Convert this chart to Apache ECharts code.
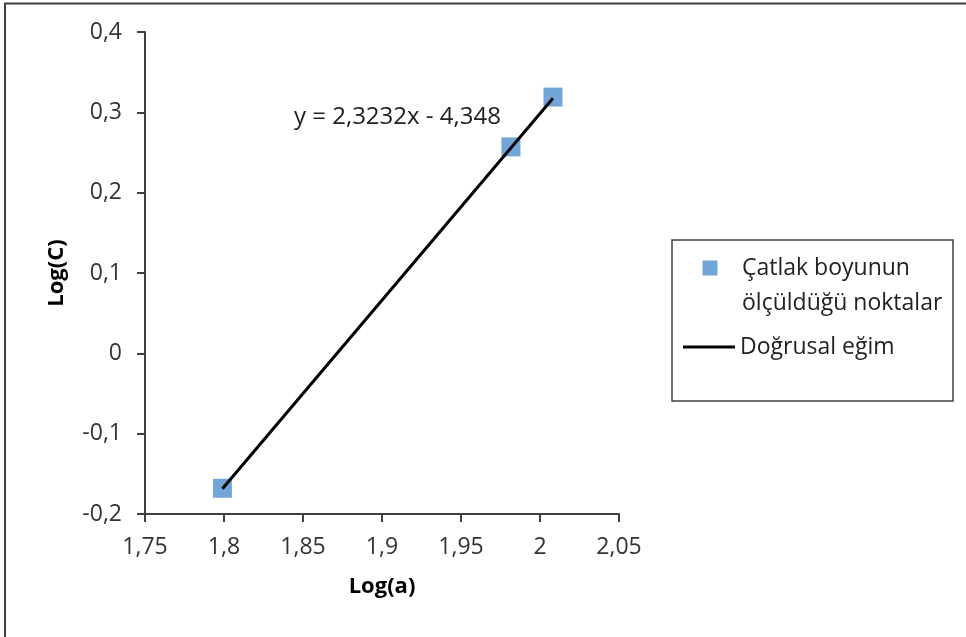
<!DOCTYPE html>
<html>
<head>
<meta charset="utf-8">
<script src="https://cdn.jsdelivr.net/npm/echarts@6/dist/echarts.min.js"></script>
<style>
  html, body { margin: 0; padding: 0; background: #fff; }
  #chart { width: 966px; height: 637px; }
</style>
</head>
<body>
<div id="chart"></div>
<script>
// Measured points: crack length (log a) vs. growth rate (log C)
const logA = [1.799, 1.9816, 2.0082];
const logC = [-0.168, 0.257, 0.319];

// Linear fit reported on the chart
const slope = 2.3232;
const intercept = -4.348;
const equationText = 'y = 2,3232x - 4,348';

// Axis tick labels (decimal comma)
const xTickLabels = ['1,75', '1,8', '1,85', '1,9', '1,95', '2', '2,05'];
const yTickLabels = ['-0,2', '-0,1', '0', '0,1', '0,2', '0,3', '0,4'];

const pointsName = 'Çatlak boyunun\nölçüldüğü noktalar';
const fitName = 'Doğrusal eğim';

const FONT = '"Open Sans", "Noto Sans", sans-serif';
const INK = '#404040';

const X_MIN = 1.75, X_MAX = 2.05, X_STEP = 0.05;
const Y_MIN = -0.2, Y_MAX = 0.4, Y_STEP = 0.1;

const scatterData = logA.map((a, i) => [a, logC[i]]);
const fitXs = [Math.min(...logA), Math.max(...logA)];
const fitData = fitXs.map(x => [x, slope * x + intercept]);

const chart = echarts.init(document.getElementById('chart'));

chart.setOption({
  backgroundColor: '#fff',
  animation: false,
  grid: { left: 145, top: 32, right: 347, bottom: 123, containLabel: false },
  xAxis: {
    type: 'value',
    min: X_MIN, max: X_MAX, interval: X_STEP,
    name: 'Log(a)',
    nameLocation: 'middle',
    nameGap: 62,
    nameTextStyle: { fontFamily: FONT, fontSize: 22, fontWeight: 'bold', color: '#000', verticalAlign: 'top' },
    axisLine: { show: true, onZero: false, lineStyle: { color: INK, width: 2 } },
    axisTick: { show: true, inside: false, length: 8, lineStyle: { color: INK, width: 2 } },
    splitLine: { show: false },
    axisLabel: {
      margin: 22,
      fontFamily: FONT, fontSize: 23, color: '#333',
      formatter: v => xTickLabels[Math.round((v - X_MIN) / X_STEP)]
    }
  },
  yAxis: {
    type: 'value',
    min: Y_MIN, max: Y_MAX, interval: Y_STEP,
    name: 'Log(C)',
    nameLocation: 'middle',
    nameGap: 77,
    nameRotate: 90,
    nameTextStyle: { fontFamily: FONT, fontSize: 22, fontWeight: 'bold', color: '#000' },
    axisLine: { show: true, onZero: false, lineStyle: { color: INK, width: 2 } },
    axisTick: { show: true, inside: false, length: 8, lineStyle: { color: INK, width: 2 } },
    splitLine: { show: false },
    axisLabel: {
      margin: 23,
      fontFamily: FONT, fontSize: 23, color: '#333',
      formatter: v => yTickLabels[Math.round((v - Y_MIN) / Y_STEP)]
    }
  },
  legend: [
    {
      data: [pointsName],
      orient: 'vertical',
      left: 702.5, top: 250.5,
      padding: 0,
      selectedMode: false,
      itemWidth: 34.5, itemHeight: 50,
      // square marker sitting beside the first text line
      icon: 'path://M0,0h15v15h-15zM34.5,50h0',
      textStyle: { fontFamily: FONT, fontSize: 23, color: '#222', lineHeight: 35 }
    },
    {
      data: [fitName],
      orient: 'vertical',
      left: 683, top: 335.5,
      padding: 0,
      selectedMode: false,
      itemWidth: 52, itemHeight: 3,
      icon: 'rect',
      textStyle: { fontFamily: FONT, fontSize: 23, color: '#222' }
    }
  ],
  graphic: [
    {
      type: 'rect', silent: true, z: -1,
      shape: { x: 5, y: 3.5, width: 1200, height: 1200 },
      style: { fill: 'none', stroke: INK, lineWidth: 2 }
    },
    {
      type: 'rect', silent: true,
      shape: { x: 672, y: 240, width: 281, height: 161 },
      style: { fill: 'none', stroke: INK, lineWidth: 1.5 }
    },
    {
      type: 'text', silent: true,
      style: {
        x: 294, y: 117, text: equationText,
        fontFamily: FONT, fontSize: 24, fill: '#222',
        verticalAlign: 'middle', align: 'left'
      }
    }
  ],
  series: [
    {
      name: pointsName,
      type: 'scatter',
      symbol: 'rect',
      symbolSize: 19,
      itemStyle: { color: '#4F90D0' },
      data: scatterData
    },
    {
      name: fitName,
      type: 'line',
      symbol: 'none',
      showSymbol: false,
      lineStyle: { color: '#000', width: 3 },
      itemStyle: { color: '#000' },
      data: fitData
    }
  ]
});
</script>
</body>
</html>
